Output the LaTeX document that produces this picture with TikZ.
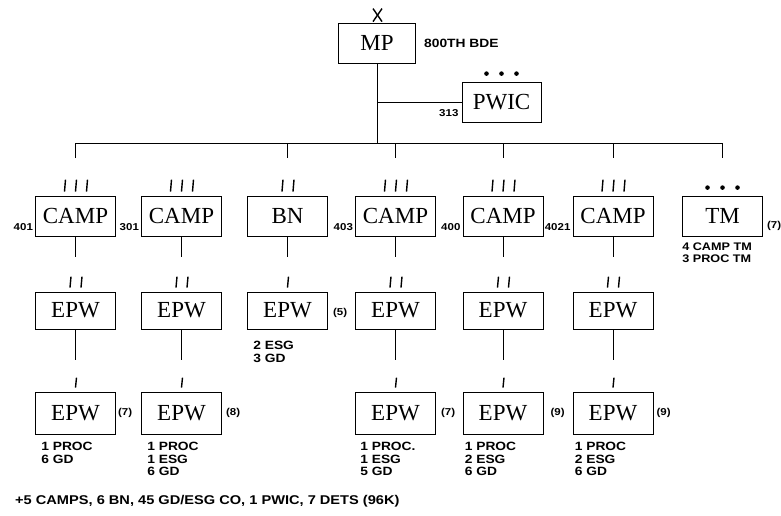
\documentclass[tikz,border=0pt]{standalone}
\usepackage{fontspec}
\setmainfont{Liberation Serif}
\newfontfamily\lblfont[FakeStretch=1.15]{Liberation Sans}
\usetikzlibrary{calc}
\newcommand\echmarks[3]{%
  \foreach \i in {1,...,#2}{%
    \draw[echline] ($(#1.north)+({(\i-(#2+1)/2)*11},-4)$) -- ++(1,-#3);
  }}
\newcommand\echdots[1]{%
  \foreach \i in {-1,0,1}{%
    \fill ($(#1.north)+(\i*15,-8)$) circle (2.3);
  }}
\begin{document}
\begin{tikzpicture}[x=1pt,y=-1pt,
  unit/.style={draw, line width=0.8pt, minimum width=80pt, minimum height=40pt, inner sep=0pt,
    font=\fontsize{23}{23}\selectfont},
  lvtwo/.style={unit, minimum height=37pt},
  lvthree/.style={unit, minimum height=42pt},
  conn/.style={line width=0.8pt},
  echline/.style={line width=1.4pt},
  small/.style={font=\lblfont\bfseries\fontsize{12}{12.5}\selectfont, inner sep=0pt},
  num/.style={font=\lblfont\bfseries\fontsize{10}{10}\selectfont, inner sep=0pt},
  note/.style={small, align=left, anchor=north west},
]
\useasboundingbox (0,0) rectangle (781,516);

% top
\node[unit, minimum width=77pt] (mp) at (377,43) {MP};
\node[unit, minimum width=79pt] (pwic) at (501.5,102) {PWIC};
\node[small, anchor=west] (bde) at (424,43) {800TH BDE};
\node[num, anchor=south east] (n313) at ([xshift=-3pt,yshift=6pt]pwic.south west) {313};
\draw[echline] ($(mp.north)+(-4,-14)$) -- ($(mp.north)+(5,-1)$);
\draw[echline] ($(mp.north)+(5,-14)$) -- ($(mp.north)+(-4,-1)$);
\echdots{pwic}

% level 1
\foreach \n/\x in {c401/75.5, c301/181.5, bn/287.5, c403/395.5, c400/503, c4021/613, tm/722.5}
  \node[unit] (\n) at (\x,216) {};
\node at (c401) [font=\fontsize{23}{23}\selectfont] {CAMP};
\node at (c301) [font=\fontsize{23}{23}\selectfont] {CAMP};
\node at (bn) [font=\fontsize{23}{23}\selectfont] {BN};
\node at (c403) [font=\fontsize{23}{23}\selectfont] {CAMP};
\node at (c400) [font=\fontsize{23}{23}\selectfont] {CAMP};
\node at (c4021) [font=\fontsize{23}{23}\selectfont] {CAMP};
\node at (tm) [font=\fontsize{23}{23}\selectfont] {TM};

\foreach \n/\t in {c401/401, c301/301, c403/403, c400/400, c4021/4021}
  \node[num, anchor=south east] (lab\n) at ([xshift=-2pt,yshift=6pt]\n.south west) {\t};
\node[num, anchor=south west] (labtm) at ([xshift=4pt,yshift=6pt]tm.south east) {(7)};
\node[note] (tmnote) at ([xshift=0pt,yshift=-6pt]tm.south west) {\fontsize{11}{11.5}\selectfont 4 CAMP TM\\\fontsize{11}{11.5}\selectfont 3 PROC TM};

\echmarks{c401}{3}{12}
\echmarks{c301}{3}{12}
\echmarks{bn}{2}{12}
\echmarks{c403}{3}{12}
\echmarks{c400}{3}{12}
\echmarks{c4021}{3}{12}
\echdots{tm}

% bus
\coordinate (busy) at (0,143);
\coordinate (dropy) at (0,158);
\draw[conn] (mp.south) -- (mp.south |- busy);
\draw[conn] (mp.south |- pwic.west) -- (pwic.west);
\draw[conn] (c401.north |- dropy) -- (c401.north |- busy) -- (tm.north |- busy) -- (tm.north |- dropy);
\foreach \n in {bn, c403, c400, c4021}
  \draw[conn] (\n.north |- busy) -- (\n.north |- dropy);

% level 2
\foreach \n/\p in {e1/c401, e2/c301, e3/bn, e4/c403, e5/c400, e6/c4021}{
  \node[lvtwo] (\n) at (\p |- 0,310.5) {EPW};
  \draw[conn] (\p.south) -- ++(0,21);
}
\echmarks{e1}{2}{11}
\echmarks{e2}{2}{11}
\echmarks{e3}{1}{11}
\echmarks{e4}{2}{11}
\echmarks{e5}{2}{11}
\echmarks{e6}{2}{11}
\node[num, anchor=west] (lab5) at ([xshift=5pt,yshift=-2pt]e3.east) {(5)};
\node[note] (e3note) at ([xshift=6pt,yshift=-12pt]e3.south west) {2 ESG\\3 GD};

% level 3
\foreach \n/\p in {f1/e1, f2/e2, f4/e4, f5/e5, f6/e6}{
  \node[lvthree] (\n) at (\p |- 0,413) {EPW};
  \draw[conn] (\p.south) -- ++(0,31);
  \echmarks{\n}{1}{10}
}
\foreach \n/\t/\s in {f1/(7)/2, f2/(8)/4, f4/(7)/5, f5/(9)/7, f6/(9)/3}
  \node[num, anchor=west] (lab\n) at ([xshift=\s pt]\n.east) {\t};
\node[note] (f1note) at ([xshift=6pt,yshift=-8pt]f1.south west) {1 PROC\\6 GD};
\node[note] (f2note) at ([xshift=6pt,yshift=-8pt]f2.south west) {1 PROC\\1 ESG\\6 GD};
\node[note] (f4note) at ([xshift=5pt,yshift=-8pt]f4.south west) {1 PROC.\\1 ESG\\5 GD};
\node[note] (f5note) at ([xshift=2pt,yshift=-8pt]f5.south west) {1 PROC\\2 ESG\\6 GD};
\node[note] (f6note) at ([xshift=2pt,yshift=-8pt]f6.south west) {1 PROC\\2 ESG\\6 GD};

\node[small, anchor=west, font=\lblfont\bfseries\fontsize{12.7}{13}\selectfont] (foot) at (15,501) {+5 CAMPS, 6 BN, 45 GD/ESG CO, 1 PWIC, 7 DETS (96K)};
\end{tikzpicture}
\end{document}
